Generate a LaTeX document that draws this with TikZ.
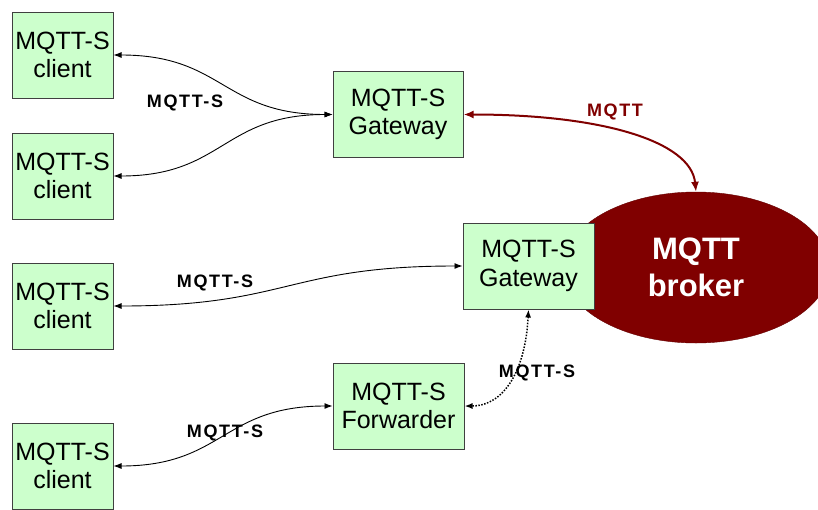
\documentclass[tikz,border=0pt]{standalone}
\usepackage{fontspec}
\setmainfont{Liberation Sans}
\usetikzlibrary{arrows.meta,shapes.geometric}
\definecolor{boxgreen}{RGB}{204,255,204}
\definecolor{boxline}{RGB}{64,64,64}
\definecolor{brokerred}{RGB}{128,0,0}
\tikzset{
  box/.style={draw=boxline, line width=1pt, fill=boxgreen, minimum width=#1, minimum height=86pt,
    inner sep=0pt, align=center, font=\fontsize{25}{28.5}\selectfont},
  box/.default=101pt,
  lbl/.style={font=\fontsize{18}{20}\selectfont\bfseries\addfontfeature{LetterSpace=9}, inner sep=0pt},
  link/.style={line width=0.9pt, {Latex[length=8pt,width=6pt]}-{Latex[length=8pt,width=6pt]}},
}
\begin{document}
\begin{tikzpicture}[x=1pt,y=-1pt]
\useasboundingbox (0,0) rectangle (818,509);
\clip (0,0) rectangle (818,509);
\node[ellipse, fill=brokerred, draw=brokerred!80!black, minimum width=266pt, minimum height=151pt,
  inner sep=0pt, align=center, text=white, font=\fontsize{31}{37}\selectfont\bfseries] (broker) at (696,267.5) {MQTT\\broker};
\node[box] (c1) at (62.5,55) {MQTT-S\\client};
\node[box] (c2) at (62.5,176) {MQTT-S\\client};
\node[box=130pt] (gw1) at (398,114.5) {MQTT-S\\Gateway};
\node[box=131pt] (gw2) at (528.5,266) {MQTT-S\\Gateway};
\node[box] (c3) at (62.5,306) {MQTT-S\\client};
\node[box=131pt] (fw) at (398.5,406) {MQTT-S\\Forwarder};
\node[box] (c4) at (62.5,466) {MQTT-S\\client};
\draw[link] (c1.east) .. controls +(110,0) and +(-110,0) .. (gw1.west);
\draw[link] (c2.east) .. controls +(110,0) and +(-110,0) .. (gw1.west);
\draw[link] (c3.east) .. controls +(175,0) and +(-175,0) .. (gw2.west);
\draw[link] (c4.east) .. controls +(110,0) and +(-110,0) .. (fw.west);
\draw[link, line width=1.5pt, dash pattern=on 1.5pt off 1.5pt] (gw2.south) .. controls +(-3,60) and +(40,0) .. (fw.east);
\draw[line width=2pt, brokerred, {Latex[length=10pt,width=8pt]}-{Latex[length=10pt,width=8pt]}]
  (gw1.east) .. controls +(140,0) and +(-5,-50) .. (broker.north);
\node[lbl] (l1) at (185,103) {MQTT-S};
\node[lbl, text=brokerred] (l2) at (615,112) {MQTT};
\node[lbl] (l3) at (215,283) {MQTT-S};
\node[lbl] (l4) at (537,373) {MQTT-S};
\node[lbl] (l5) at (225,433) {MQTT-S};
\end{tikzpicture}
\end{document}
